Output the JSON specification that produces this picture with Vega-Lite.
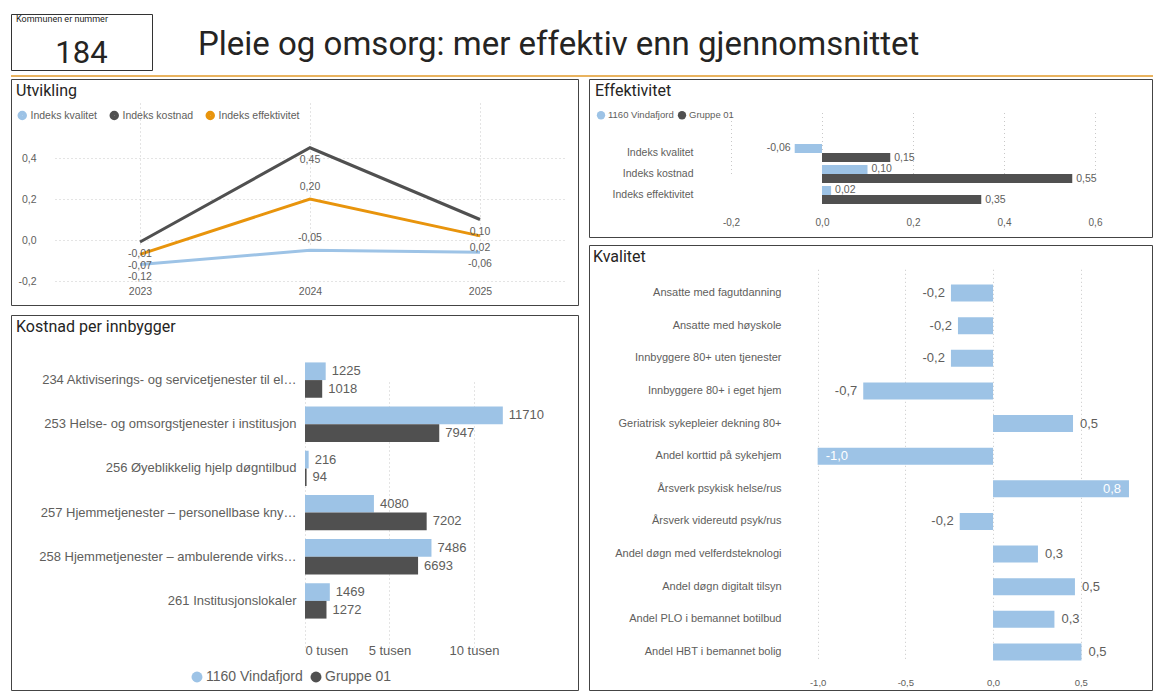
{
  "$schema": "https://vega.github.io/schema/vega-lite/v6.json",
  "padding": {"left": 10, "top": 13, "right": 0, "bottom": 0},
  "background": "white",
  "config": {
    "locale": {"number": {"decimal": ",", "thousands": " ", "grouping": [3], "currency": ["", ""], "minus": "-"}},
    "view": {"stroke": null},
    "font": "Liberation Sans",
    "axis": {"domain": false, "ticks": false, "labelFont": "Liberation Sans", "labelColor": "#605E5C", "gridColor": "#C8C8C8", "gridDash": [1, 3], "gridWidth": 1, "title": null},
    "legend": {"labelFont": "Liberation Sans", "labelColor": "#605E5C", "symbolType": "circle", "direction": "horizontal", "title": null},
    "title": {"font": "Roboto", "fontWeight": "normal", "color": "#252423", "anchor": "start", "frame": "group"},
    "text": {"font": "Liberation Sans", "color": "#605E5C"}
  },
  "title": {"text": "Pleie og omsorg: mer effektiv enn gjennomsnittet", "fontSize": 33, "dx": 187, "offset": -48},
  "spacing": 4,
  "resolve": {"scale": {"color": "independent", "x": "independent", "y": "independent", "yOffset": "independent"}, "legend": {"color": "independent"}},
  "vconcat": [
    {
      "width": 141, "height": 56,
      "view": {"stroke": "#333333", "strokeWidth": 1},
      "title": {"text": "Kommunen er nummer", "fontSize": 9, "dx": 5, "offset": -10},
      "data": {"values": [{"nummer": "184"}]},
      "mark": {"type": "text", "fontSize": 31, "font": "Roboto", "color": "#252423", "dy": 12},
      "encoding": {"text": {"field": "nummer"}}
    },
    {
      "spacing": 1,
      "resolve": {"scale": {"color": "independent", "x": "independent", "y": "independent", "yOffset": "independent"}, "legend": {"color": "independent"}},
      "vconcat": [
        {
          "width": 1142, "height": 2,
          "data": {"values": [{"a": 1}]},
          "mark": {"type": "rect", "color": "#E9B35F"},
          "encoding": {}
        },
        {
          "spacing": 9,
          "resolve": {"scale": {"color": "independent", "x": "independent", "y": "independent", "yOffset": "independent"}, "legend": {"color": "independent"}},
          "hconcat": [
            {
              "spacing": 8,
              "resolve": {"scale": {"color": "independent", "x": "independent", "y": "independent", "yOffset": "independent"}, "legend": {"color": "independent"}},
              "vconcat": [
                {
                  "width": 567, "height": 226,
                  "view": {"stroke": "#444444", "strokeWidth": 1},
                  "title": {"text": "Utvikling", "fontSize": 16, "dx": 5, "offset": -20},
                  "data": {"values": [
                    {"year": "2023", "index": "Indeks kvalitet", "value": -0.12},
                    {"year": "2024", "index": "Indeks kvalitet", "value": -0.05},
                    {"year": "2025", "index": "Indeks kvalitet", "value": -0.06},
                    {"year": "2023", "index": "Indeks kostnad", "value": -0.01},
                    {"year": "2024", "index": "Indeks kostnad", "value": 0.45},
                    {"year": "2025", "index": "Indeks kostnad", "value": 0.10},
                    {"year": "2023", "index": "Indeks effektivitet", "value": -0.07},
                    {"year": "2024", "index": "Indeks effektivitet", "value": 0.20},
                    {"year": "2025", "index": "Indeks effektivitet", "value": 0.02}
                  ]},
                  "encoding": {
                    "x": {"field": "year", "type": "ordinal", "scale": {"type": "point", "rangeMin": 44, "rangeMax": 554}, "axis": {"labelAngle": 0, "offset": -20.5, "labelPadding": 2, "labelFontSize": 10.5, "grid": true}},
                    "y": {"field": "value", "type": "quantitative", "scale": {"domain": [-0.2, 0.5], "nice": false, "rangeMin": 202, "rangeMax": 58.5}, "axis": {"values": [-0.2, 0, 0.2, 0.4], "format": ".1f", "offset": -29, "labelPadding": 4, "labelFontSize": 10.5, "grid": true}}
                  },
                  "layer": [
                    {
                      "mark": {"type": "line", "strokeWidth": 3},
                      "encoding": {
                        "color": {"field": "index", "type": "nominal", "sort": null, "scale": {"domain": ["Indeks kvalitet", "Indeks kostnad", "Indeks effektivitet"], "range": ["#9DC3E6", "#505050", "#E8940C"]}, "legend": {"orient": "none", "legendX": 6, "legendY": 31, "labelFontSize": 10.5, "symbolSize": 20, "symbolStrokeWidth": 5, "columnPadding": 4, "labelOffset": 3}}
                      }
                    },
                    {
                      "transform": [{"filter": "datum.year == '2024' && datum.index != 'Indeks kostnad'"}],
                      "mark": {"type": "text", "dy": -12, "fontSize": 10.5},
                      "encoding": {"text": {"field": "value", "type": "quantitative", "format": ".2f"}}
                    },
                    {
                      "transform": [{"filter": "!(datum.year == '2024' && datum.index != 'Indeks kostnad')"}],
                      "mark": {"type": "text", "dy": 12, "fontSize": 10.5},
                      "encoding": {"text": {"field": "value", "type": "quantitative", "format": ".2f"}}
                    }
                  ]
                },
                {
                  "width": 567, "height": 375,
                  "view": {"stroke": "#444444", "strokeWidth": 1},
                  "title": {"text": "Kostnad per innbygger", "fontSize": 16, "dx": 5, "offset": -20},
                  "data": {"values": [
                    {"kat": "234 Aktiviserings- og servicetjenester til el…", "serie": "1160 Vindafjord", "v": 1225},
                    {"kat": "234 Aktiviserings- og servicetjenester til el…", "serie": "Gruppe 01", "v": 1018},
                    {"kat": "253 Helse- og omsorgstjenester i institusjon", "serie": "1160 Vindafjord", "v": 11710},
                    {"kat": "253 Helse- og omsorgstjenester i institusjon", "serie": "Gruppe 01", "v": 7947},
                    {"kat": "256 Øyeblikkelig hjelp døgntilbud", "serie": "1160 Vindafjord", "v": 216},
                    {"kat": "256 Øyeblikkelig hjelp døgntilbud", "serie": "Gruppe 01", "v": 94},
                    {"kat": "257 Hjemmetjenester – personellbase kny…", "serie": "1160 Vindafjord", "v": 4080},
                    {"kat": "257 Hjemmetjenester – personellbase kny…", "serie": "Gruppe 01", "v": 7202},
                    {"kat": "258 Hjemmetjenester – ambulerende virks…", "serie": "1160 Vindafjord", "v": 7486},
                    {"kat": "258 Hjemmetjenester – ambulerende virks…", "serie": "Gruppe 01", "v": 6693},
                    {"kat": "261 Institusjonslokaler", "serie": "1160 Vindafjord", "v": 1469},
                    {"kat": "261 Institusjonslokaler", "serie": "Gruppe 01", "v": 1272}
                  ]},
                  "encoding": {
                    "y": {"field": "kat", "type": "nominal", "sort": null, "scale": {"paddingInner": 0.2, "paddingOuter": 0.1, "rangeMin": 43, "rangeMax": 308}, "axis": {"offset": -293, "labelPadding": 8, "labelFontSize": 13, "labelLimit": 400}},
                    "yOffset": {"field": "serie", "type": "nominal", "sort": null},
                    "x": {"field": "v", "type": "quantitative", "scale": {"domain": [0, 16000], "nice": false, "rangeMin": 294, "rangeMax": 564.3}, "axis": {"values": [0, 5000, 10000], "labelExpr": "format(datum.value / 1000, 'd') + ' tusen'", "offset": -49.5, "labelPadding": 4, "labelFontSize": 13, "grid": true}}
                  },
                  "layer": [
                    {
                      "mark": "bar",
                      "encoding": {
                        "color": {"field": "serie", "type": "nominal", "sort": null, "scale": {"domain": ["1160 Vindafjord", "Gruppe 01"], "range": ["#9DC3E6", "#505050"]}, "legend": {"orient": "none", "legendX": 179, "legendY": 355, "labelFontSize": 14, "symbolSize": 120, "columnPadding": 6, "labelOffset": 2}}
                      }
                    },
                    {
                      "mark": {"type": "text", "align": "left", "dx": 6, "fontSize": 13},
                      "encoding": {"text": {"field": "v", "type": "quantitative", "format": "d"}}
                    }
                  ]
                }
              ]
            },
            {
              "spacing": 6,
              "resolve": {"scale": {"color": "independent", "x": "independent", "y": "independent", "yOffset": "independent"}, "legend": {"color": "independent"}},
              "vconcat": [
                {
                  "width": 563, "height": 158,
                  "view": {"stroke": "#444444", "strokeWidth": 1},
                  "title": {"text": "Effektivitet", "fontSize": 16, "dx": 6, "offset": -20},
                  "data": {"values": [
                    {"ind": "Indeks kvalitet", "serie": "1160 Vindafjord", "v": -0.06},
                    {"ind": "Indeks kvalitet", "serie": "Gruppe 01", "v": 0.15},
                    {"ind": "Indeks kostnad", "serie": "1160 Vindafjord", "v": 0.10},
                    {"ind": "Indeks kostnad", "serie": "Gruppe 01", "v": 0.55},
                    {"ind": "Indeks effektivitet", "serie": "1160 Vindafjord", "v": 0.02},
                    {"ind": "Indeks effektivitet", "serie": "Gruppe 01", "v": 0.35}
                  ]},
                  "encoding": {
                    "y": {"field": "ind", "type": "nominal", "sort": null, "scale": {"paddingInner": 0.14, "paddingOuter": 0.07, "rangeMin": 63.5, "rangeMax": 126.5}, "axis": {"offset": -110, "labelPadding": 6, "labelFontSize": 10.5}},
                    "yOffset": {"field": "serie", "type": "nominal", "sort": null},
                    "x": {"field": "v", "type": "quantitative", "scale": {"domain": [-0.3, 0.7], "nice": false, "rangeMin": 96.5, "rangeMax": 551.5}, "axis": {"values": [-0.2, 0, 0.2, 0.4, 0.6], "format": ".1f", "offset": -22, "labelPadding": 2, "labelFontSize": 10, "grid": true}}
                  },
                  "layer": [
                    {
                      "mark": "bar",
                      "encoding": {
                        "color": {"field": "serie", "type": "nominal", "sort": null, "scale": {"domain": ["1160 Vindafjord", "Gruppe 01"], "range": ["#9DC3E6", "#505050"]}, "legend": {"orient": "none", "legendX": 7, "legendY": 31, "labelFontSize": 9.5, "symbolSize": 70, "columnPadding": 3, "labelOffset": 2}}
                      }
                    },
                    {
                      "transform": [{"filter": "datum.v < 0"}],
                      "mark": {"type": "text", "align": "right", "dx": -4, "fontSize": 10.5},
                      "encoding": {"text": {"field": "v", "type": "quantitative", "format": ".2f"}}
                    },
                    {
                      "transform": [{"filter": "datum.v >= 0"}],
                      "mark": {"type": "text", "align": "left", "dx": 4, "fontSize": 10.5},
                      "encoding": {"text": {"field": "v", "type": "quantitative", "format": ".2f"}}
                    }
                  ]
                },
                {
                  "width": 563, "height": 445,
                  "view": {"stroke": "#444444", "strokeWidth": 1},
                  "title": {"text": "Kvalitet", "fontSize": 16, "dx": 4, "offset": -20},
                  "data": {"values": [
                    {"ind": "Ansatte med fagutdanning", "v": -0.24},
                    {"ind": "Ansatte med høyskole", "v": -0.2},
                    {"ind": "Innbyggere 80+ uten tjenester", "v": -0.24},
                    {"ind": "Innbyggere 80+ i eget hjem", "v": -0.74},
                    {"ind": "Geriatrisk sykepleier dekning 80+", "v": 0.456},
                    {"ind": "Andel korttid på sykehjem", "v": -1.0},
                    {"ind": "Årsverk psykisk helse/rus", "v": 0.775},
                    {"ind": "Årsverk videreutd psyk/rus", "v": -0.19},
                    {"ind": "Andel døgn med velferdsteknologi", "v": 0.256},
                    {"ind": "Andel døgn digitalt tilsyn", "v": 0.467},
                    {"ind": "Andel PLO i bemannet botilbud", "v": 0.35},
                    {"ind": "Andel HBT i bemannet bolig", "v": 0.504}
                  ]},
                  "encoding": {
                    "y": {"field": "ind", "type": "nominal", "sort": null, "scale": {"paddingInner": 0.48, "paddingOuter": 0.24, "rangeMin": 31.7, "rangeMax": 423.3}, "axis": {"offset": -200, "labelPadding": 8, "labelFontSize": 11}},
                    "x": {"field": "v", "type": "quantitative", "scale": {"domain": [-1.1, 0.9], "nice": false, "rangeMin": 211.1, "rangeMax": 561.9}, "axis": {"values": [-1, -0.5, 0, 0.5], "format": ".1f", "offset": -15, "labelPadding": 2, "labelFontSize": 9.5, "grid": true}}
                  },
                  "layer": [
                    {"mark": {"type": "bar", "color": "#9DC3E6"}},
                    {
                      "transform": [{"filter": "datum.v < 0 && datum.v > -0.9"}],
                      "mark": {"type": "text", "align": "right", "dx": -6, "fontSize": 13},
                      "encoding": {"text": {"field": "v", "type": "quantitative", "format": ".1f"}}
                    },
                    {
                      "transform": [{"filter": "datum.v >= 0 && datum.v < 0.7"}],
                      "mark": {"type": "text", "align": "left", "dx": 7, "fontSize": 13},
                      "encoding": {"text": {"field": "v", "type": "quantitative", "format": ".1f"}}
                    },
                    {
                      "transform": [{"filter": "datum.v <= -0.9"}],
                      "mark": {"type": "text", "align": "left", "dx": 8, "fontSize": 13, "color": "white"},
                      "encoding": {"text": {"field": "v", "type": "quantitative", "format": ".1f"}}
                    },
                    {
                      "transform": [{"filter": "datum.v >= 0.7"}],
                      "mark": {"type": "text", "align": "right", "dx": -8, "fontSize": 13, "color": "white"},
                      "encoding": {"text": {"field": "v", "type": "quantitative", "format": ".1f"}}
                    }
                  ]
                }
              ]
            }
          ]
        }
      ]
    }
  ]
}
